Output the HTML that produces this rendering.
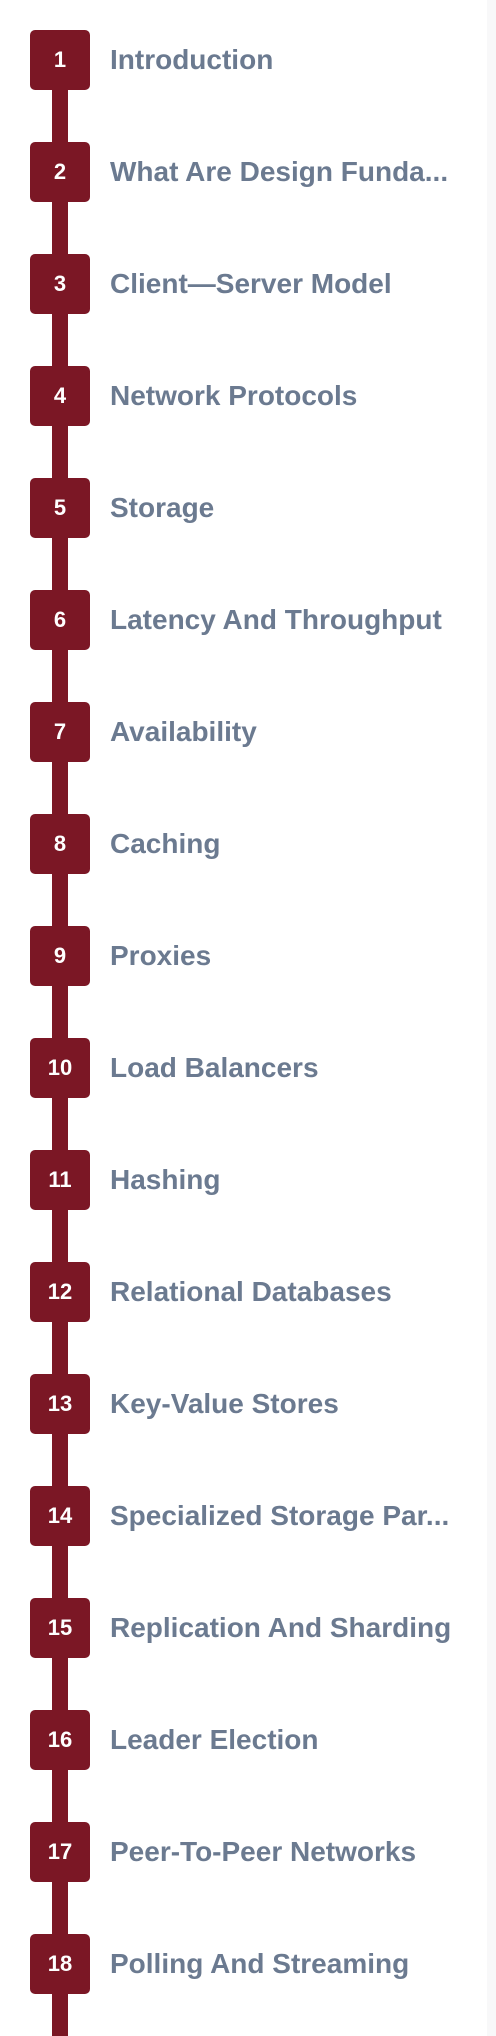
<!DOCTYPE html>
<html><head><style>
body{margin:0;width:496px;height:2036px;background:#fff;position:relative;overflow:hidden;font-family:"Liberation Sans",sans-serif}
.strip{position:absolute;left:487px;top:0;width:9px;height:2036px;background:#f8f8f9}
.line{position:absolute;left:52px;top:60px;width:16px;height:1976px;background:#7b1725}
.b{position:absolute;left:30px;width:60px;height:60px;border-radius:5px;background:#7b1725;color:#fff;font-weight:bold;font-size:22px;line-height:60px;text-align:center}
.t{position:absolute;left:110px;height:60px;line-height:60px;color:#6b7a90;font-weight:bold;font-size:28px;white-space:nowrap}
</style></head><body>
<div class="strip"></div><div class="line"></div>
<div class="b" style="top:30px">1</div><div class="t" style="top:30px">Introduction</div>
<div class="b" style="top:142px">2</div><div class="t" style="top:142px">What Are Design Funda...</div>
<div class="b" style="top:254px">3</div><div class="t" style="top:254px">Client—Server Model</div>
<div class="b" style="top:366px">4</div><div class="t" style="top:366px">Network Protocols</div>
<div class="b" style="top:478px">5</div><div class="t" style="top:478px">Storage</div>
<div class="b" style="top:590px">6</div><div class="t" style="top:590px">Latency And Throughput</div>
<div class="b" style="top:702px">7</div><div class="t" style="top:702px">Availability</div>
<div class="b" style="top:814px">8</div><div class="t" style="top:814px">Caching</div>
<div class="b" style="top:926px">9</div><div class="t" style="top:926px">Proxies</div>
<div class="b" style="top:1038px">10</div><div class="t" style="top:1038px">Load Balancers</div>
<div class="b" style="top:1150px">11</div><div class="t" style="top:1150px">Hashing</div>
<div class="b" style="top:1262px">12</div><div class="t" style="top:1262px">Relational Databases</div>
<div class="b" style="top:1374px">13</div><div class="t" style="top:1374px">Key-Value Stores</div>
<div class="b" style="top:1486px">14</div><div class="t" style="top:1486px">Specialized Storage Par...</div>
<div class="b" style="top:1598px">15</div><div class="t" style="top:1598px">Replication And Sharding</div>
<div class="b" style="top:1710px">16</div><div class="t" style="top:1710px">Leader Election</div>
<div class="b" style="top:1822px">17</div><div class="t" style="top:1822px">Peer-To-Peer Networks</div>
<div class="b" style="top:1934px">18</div><div class="t" style="top:1934px">Polling And Streaming</div>
</body></html>
